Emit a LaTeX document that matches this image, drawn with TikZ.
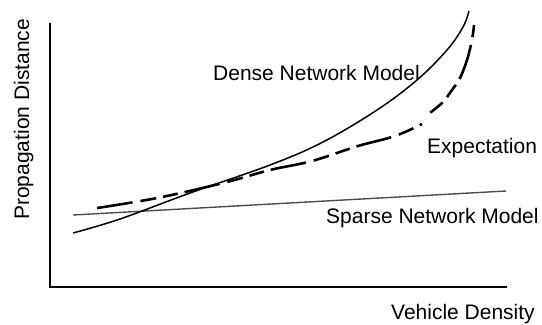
\documentclass[tikz,border=0pt]{standalone}
\usepackage{fontspec}
\setmainfont{Liberation Sans}
\usepackage{tikz}

\tikzset{
  lbl/.style={inner sep=0pt, anchor=base west, font=\fontsize{21bp}{25bp}\selectfont},
  axisline/.style={line width=2bp},
  densecurve/.style={line width=1.5bp},
  sparseline/.style={line width=1.4bp, black!70},
  expcurve/.style={line width=2.6bp, dash pattern=on 36bp off 8bp on 16bp off 7bp on 15bp off 7bp}
}

\begin{document}
\begin{tikzpicture}[x=1bp, y=-1bp]
            \useasboundingbox (0,0) rectangle (542,324);
            % axes
            \coordinate (top) at (50, 23);
            \coordinate (origin) at (50, 287);
            \coordinate (right) at (507, 287);
            \draw [axisline] (top) -- (origin) -- (right);
            % curves
            \draw [sparseline] (73, 215) -- (506, 191);
            \draw [densecurve] plot [smooth, tension=0.6] coordinates {(73,233) (120,219) (190,193) (270,165) (323,142) (377,110) (417,80) (447,50) (463,27) (469,11)};
            \draw [expcurve] plot [smooth, tension=0.6] coordinates {(97,208) (157,198) (223,183) (270,170) (312,161) (358,146) (395,136) (422,124)};
            \draw [expcurve, dash phase=40bp] plot [smooth, tension=0.6] coordinates {(427,115) (442,103) (452,90) (460,78) (467,60) (472,40) (474,25)};
            % labels
            \node[lbl] (dense) at (213, 80) {Dense Network Model};
            \node[lbl] (expect) at (427, 153) {Expectation};
            \node[lbl] (sparse) at (326, 223) {Sparse Network Model};
            \node[lbl] (xlab) at (391, 319) {Vehicle Density};
            \node[lbl, rotate=90] (ylab) at (29, 220) {Propagation Distance};
        \end{tikzpicture}
\end{document}
